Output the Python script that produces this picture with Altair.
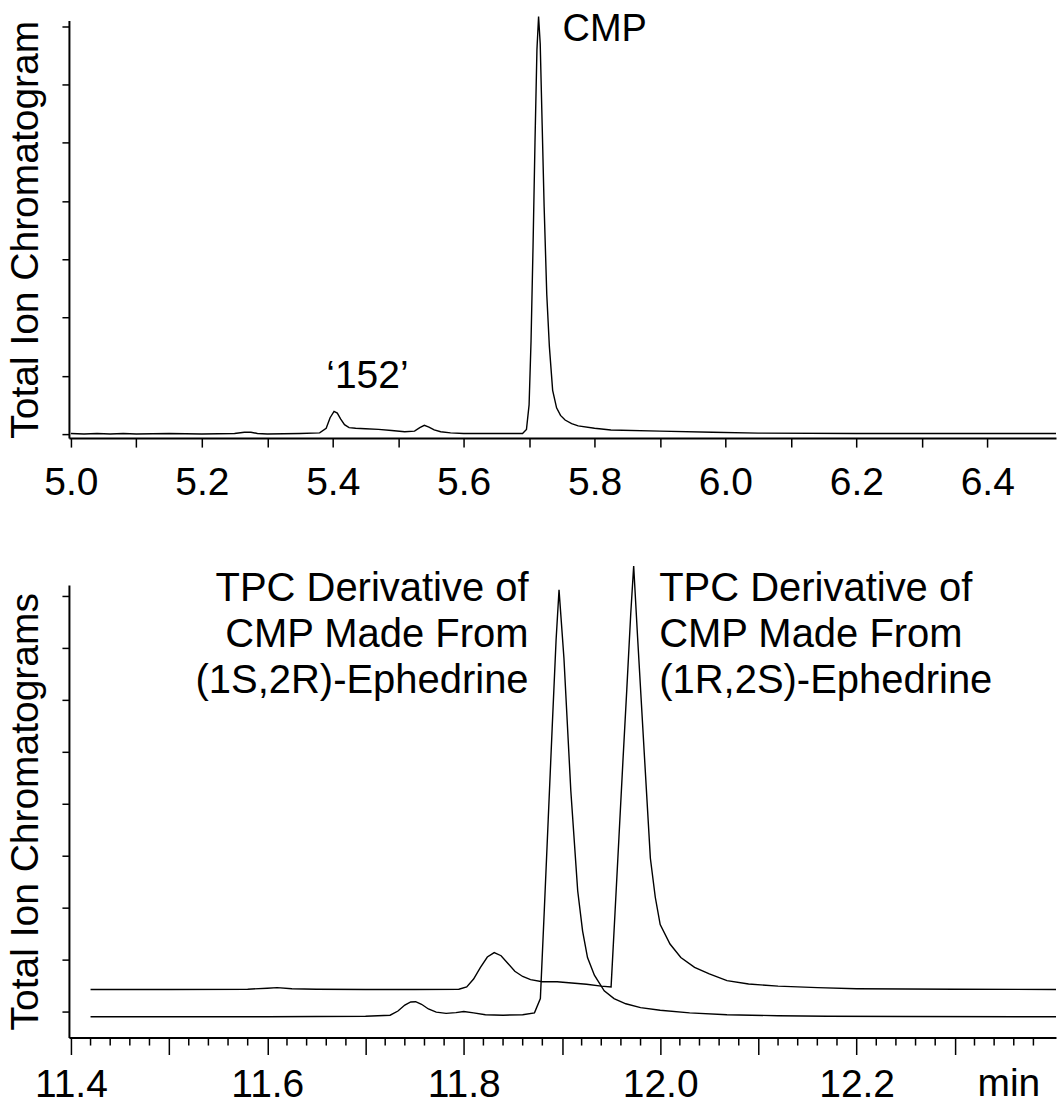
import altair as alt
import pandas as pd

FONT = "Liberation Sans"

# ---- top panel: total ion chromatogram (time in min, relative intensity) ----
TOP_X = [5.000, 5.020, 5.040, 5.060, 5.080, 5.100, 5.150, 5.200, 5.250, 5.265, 5.275, 5.285,
         5.300, 5.350, 5.380, 5.390, 5.396, 5.402, 5.407, 5.412, 5.418, 5.425, 5.435, 5.450,
         5.470, 5.490, 5.510, 5.525, 5.533, 5.540, 5.547, 5.555, 5.565, 5.580, 5.600, 5.650,
         5.690, 5.696, 5.700, 5.703, 5.706, 5.709, 5.712, 5.7145, 5.717, 5.720, 5.723, 5.727,
         5.731, 5.736, 5.742, 5.748, 5.755, 5.765, 5.775, 5.800, 5.825, 5.900, 5.980, 6.050,
         6.200, 6.505]
TOP_Y = [0.01, 0.0, 0.01, 0.0, 0.01, 0.0, 0.01, 0.0, 0.01, 0.03, 0.03, 0.01,
         0.0, 0.01, 0.02, 0.10, 0.28, 0.39, 0.36, 0.26, 0.16, 0.11, 0.10, 0.09,
         0.08, 0.06, 0.04, 0.05, 0.11, 0.15, 0.12, 0.07, 0.04, 0.02, 0.01, 0.01,
         0.01, 0.08, 0.50, 1.60, 3.20, 5.00, 6.60, 7.17, 6.70, 5.30, 3.90, 2.40,
         1.50, 0.75, 0.45, 0.32, 0.24, 0.18, 0.14, 0.10, 0.07, 0.05, 0.03, 0.015,
         0.01, 0.01]

# ---- bottom panel: two chromatograms ----
R_X = [11.420, 11.500, 11.580, 11.600, 11.610, 11.625, 11.650, 11.700, 11.750, 11.795,
       11.803, 11.810, 11.817, 11.824, 11.831, 11.838, 11.845, 11.852, 11.860, 11.868,
       11.880, 11.895, 11.910, 11.925, 11.940, 11.950, 11.954, 11.958, 11.962, 11.966,
       11.970, 11.973, 11.977, 11.984, 11.990, 11.995, 12.000, 12.010, 12.021, 12.035,
       12.050, 12.068, 12.090, 12.120, 12.160, 12.200, 12.300, 12.403]
R_Y = [1.85, 1.85, 1.86, 1.90, 1.92, 1.88, 1.86, 1.85, 1.85, 1.86,
       1.95, 2.25, 2.70, 3.10, 3.27, 3.15, 2.85, 2.55, 2.35, 2.23,
       2.15, 2.15, 2.10, 2.05, 1.98, 1.95, 4.80, 7.70, 10.6, 13.4,
       16.3, 18.15, 15.4, 10.8, 6.90, 5.40, 4.35, 3.60, 3.08, 2.70,
       2.45, 2.19, 2.06, 1.98, 1.92, 1.88, 1.86, 1.85]

S_X = [11.420, 11.500, 11.600, 11.700, 11.725, 11.733, 11.740, 11.746, 11.751, 11.757,
       11.764, 11.772, 11.782, 11.792, 11.800, 11.810, 11.822, 11.840, 11.860, 11.872,
       11.878, 11.882, 11.886, 11.890, 11.894, 11.897, 11.902, 11.909, 11.916, 11.921,
       11.926, 11.933, 11.943, 11.953, 11.965, 11.980, 12.000, 12.030, 12.068, 12.120,
       12.170, 12.250, 12.403]
S_Y = [0.80, 0.80, 0.80, 0.82, 0.86, 1.02, 1.25, 1.37, 1.38, 1.28,
       1.10, 0.98, 0.93, 0.96, 1.00, 0.95, 0.88, 0.86, 0.88, 0.95,
       1.50, 4.90, 8.40, 11.9, 15.3, 17.23, 14.6, 9.50, 5.65, 4.10,
       3.08, 2.40, 1.80, 1.50, 1.30, 1.15, 1.05, 0.95, 0.88, 0.84,
       0.82, 0.81, 0.80]

# ---- axis ticks ----
TOP_XTICKS = [5.0, 5.1, 5.2, 5.3, 5.4, 5.5, 5.6, 5.7, 5.8, 5.9, 6.0, 6.1, 6.2, 6.3, 6.4]
BOT_MAJOR = [11.4, 11.5, 11.6, 11.7, 11.8, 11.9, 12.0, 12.1, 12.2, 12.3]
BOT_MINOR = [round(11.40 + 0.02 * i, 2) for i in range(50) if i % 5 != 0]
TOP_YTICKS = [0, 1, 2, 3, 4, 5, 6, 7]
BOT_YTICKS = [1, 2, 3, 4, 5, 6, 7, 8, 9, 10, 11, 12, 13, 14, 15, 16, 17]
UNIT_TEXT = ["min"]
UNIT_X = [12.355]

# ---- annotations ----
TOP_NOTE_TEXT = ["CMP", "\u2018152\u2019"]
TOP_NOTE_X = [5.751, 5.453]
TOP_NOTE_Y = [6.74, 0.79]

BOT_NOTE_TEXT = ["TPC Derivative of\nCMP Made From\n(1S,2R)-Ephedrine",
                 "TPC Derivative of\nCMP Made From\n(1R,2S)-Ephedrine"]
BOT_NOTE_X = [11.866, 11.999]
BOT_NOTE_Y = [16.8, 16.8]

top_df = pd.DataFrame({"t": TOP_X, "v": TOP_Y})
bot_df = pd.concat([
    pd.DataFrame({"t": R_X, "v": R_Y, "s": "(1R,2S)"}),
    pd.DataFrame({"t": S_X, "v": S_Y, "s": "(1S,2R)"}),
])
top_note = pd.DataFrame({"label": TOP_NOTE_TEXT, "t": TOP_NOTE_X, "v": TOP_NOTE_Y})
bot_note = pd.DataFrame({"label": BOT_NOTE_TEXT, "t": BOT_NOTE_X, "v": BOT_NOTE_Y})
minor_df = pd.DataFrame({"t": BOT_MINOR})
unit_df = pd.DataFrame({"label": UNIT_TEXT, "t": UNIT_X})

W = 988
TOP_H = 418
BOT_H = 453
FS = 39
MAJOR_TICK = 17
MINOR_TICK = 8
BOT_LABEL_PAD = 11

top_xscale = alt.Scale(domain=[4.997, 6.505], nice=False, zero=False)
top_yscale = alt.Scale(domain=[-0.07, 7.1], nice=False, zero=False)
bot_xscale = alt.Scale(domain=[11.398, 12.403], nice=False, zero=False)
bot_yscale = alt.Scale(domain=[0, 17.42], nice=False, zero=False)

top_xaxis = alt.Axis(
    values=TOP_XTICKS, title=None, tickSize=9, labelPadding=16,
    labelExpr="(round(datum.value*10) % 2 == 0) ? format(datum.value, '.1f') : ''",
    labelFontSize=FS, labelFlush=False, labelOverlap=False, grid=False,
)
top_yaxis = alt.Axis(
    values=TOP_YTICKS, title="Total Ion Chromatogram", labels=False, tickSize=7,
    titleFontSize=FS, titleFontWeight="normal", titlePadding=16, grid=False,
)
bot_xaxis = alt.Axis(
    values=BOT_MAJOR, title=None, tickSize=MAJOR_TICK, labelPadding=BOT_LABEL_PAD,
    labelExpr="(round(datum.value*10) % 2 == 0) ? format(datum.value, '.1f') : ''",
    labelFontSize=FS, labelFlush=False, labelOverlap=False, grid=False,
)
bot_yaxis = alt.Axis(
    values=BOT_YTICKS, title="Total Ion Chromatograms", labels=False, tickSize=7,
    titleFontSize=FS, titleFontWeight="normal", titlePadding=16, grid=False,
)

top_line = alt.Chart(top_df).mark_line(color="black", strokeWidth=1.4).encode(
    x=alt.X("t:Q", scale=top_xscale, axis=top_xaxis),
    y=alt.Y("v:Q", scale=top_yscale, axis=top_yaxis),
    order="t:Q",
)
top_cmp = alt.Chart(top_note.iloc[[0]]).mark_text(
    align="left", baseline="alphabetic", font=FONT, fontSize=38, color="black"
).encode(x=alt.X("t:Q", scale=top_xscale), y=alt.Y("v:Q", scale=top_yscale), text="label:N")
top_152 = alt.Chart(top_note.iloc[[1]]).mark_text(
    align="center", baseline="alphabetic", font=FONT, fontSize=FS, color="black"
).encode(x=alt.X("t:Q", scale=top_xscale), y=alt.Y("v:Q", scale=top_yscale), text="label:N")

top = alt.layer(top_line, top_cmp, top_152).properties(width=W, height=TOP_H)

bot_line = alt.Chart(bot_df).mark_line(color="black", strokeWidth=1.4).encode(
    x=alt.X("t:Q", scale=bot_xscale, axis=bot_xaxis),
    y=alt.Y("v:Q", scale=bot_yscale, axis=bot_yaxis),
    detail="s:N",
    order="t:Q",
)
bot_minor = alt.Chart(minor_df).mark_rule(color="black", strokeWidth=1.5).encode(
    x=alt.X("t:Q", scale=bot_xscale),
    y=alt.value(BOT_H),
    y2=alt.value(BOT_H + MINOR_TICK),
)
bot_unit = alt.Chart(unit_df).mark_text(
    align="center", baseline="top", font=FONT, fontSize=FS, color="black"
).encode(
    x=alt.X("t:Q", scale=bot_xscale),
    y=alt.value(BOT_H + MAJOR_TICK + BOT_LABEL_PAD),
    text="label:N",
)
bot_left = alt.Chart(bot_note.iloc[[0]]).mark_text(
    align="right", baseline="alphabetic", font=FONT, fontSize=40, lineHeight=46,
    lineBreak="\n", color="black"
).encode(x=alt.X("t:Q", scale=bot_xscale), y=alt.Y("v:Q", scale=bot_yscale), text="label:N")
bot_right = alt.Chart(bot_note.iloc[[1]]).mark_text(
    align="left", baseline="alphabetic", font=FONT, fontSize=40, lineHeight=46,
    lineBreak="\n", color="black"
).encode(x=alt.X("t:Q", scale=bot_xscale), y=alt.Y("v:Q", scale=bot_yscale), text="label:N")

bottom = alt.layer(bot_line, bot_minor, bot_unit, bot_left, bot_right).properties(
    width=W, height=BOT_H
)

chart = alt.vconcat(top, bottom, spacing=147, bounds="flush").properties(
    padding={"left": 6, "top": 10, "right": 0, "bottom": 0},
    background="white",
).configure_view(stroke=None).configure_axis(
    domainColor="black", domainWidth=2, tickColor="black", tickWidth=1.5,
    labelColor="black", titleColor="black", labelFont=FONT, titleFont=FONT,
)

chart.save("out.html", embed_options={"renderer": "svg", "actions": False})
